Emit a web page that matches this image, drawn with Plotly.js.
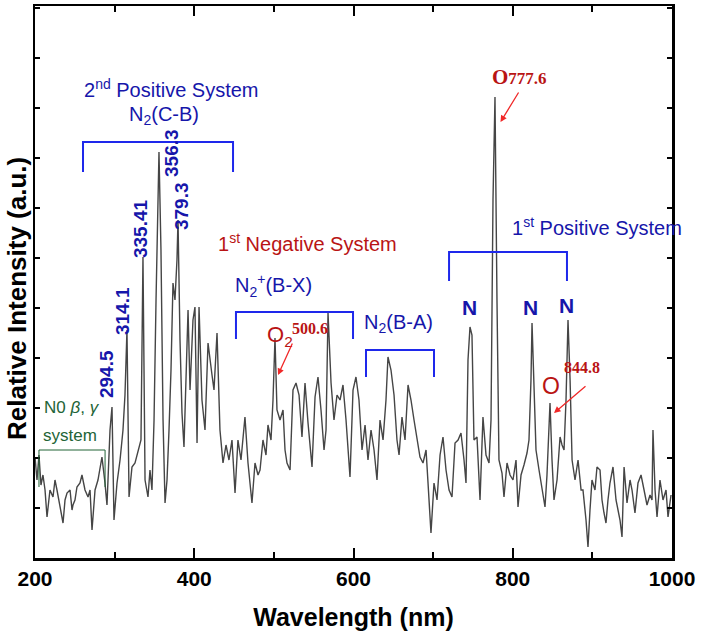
<!DOCTYPE html>
<html>
<head>
<meta charset="utf-8">
<script src="https://cdn.plot.ly/plotly-3.0.1.min.js"></script>
<style>html,body{margin:0;padding:0;background:#fff;}#chart{width:702px;height:638px;}</style>
</head>
<body>
<div id="chart"></div>
<script>
// Emission spectrum (wavelength in nm, relative intensity a.u.)
var wavelength = [200,202.5,205,207.5,210,212.6,215.1,218.8,222.6,225.1,227.6,231.4,235.2,237.7,240.2,244,246.5,247.7,250.2,252.7,256.5,259,262.8,266.6,269.1,271.6,275.4,279.1,281.6,284.1,287.9,290.4,294.2,296.7,299.2,303,306.8,310.5,313,315.5,318.1,321.8,325.6,329.4,333.1,335.6,338.2,341.9,344.4,346.9,349.5,352,353.2,355.7,358.2,360.8,363.3,365.8,368.3,370.8,373.3,375.8,378.3,379.6,382.1,384.6,387.1,389.6,392.2,394.7,398.4,400.9,403.5,406,409.7,413.5,417.3,422.3,424.8,428.6,432.3,436.1,439.9,443.6,447.4,451.2,454.9,458.7,463.7,467.5,472.5,476.3,480.1,482.6,486.3,490.1,492.6,496.4,498.9,501.4,503.9,507.7,511.5,514,516.5,520.3,524,527.8,531.6,535.3,539.1,542.9,547.9,551.7,555.4,559.2,563,565.5,568,571.8,575.5,579.3,583.1,586.8,590.6,595.6,599.4,603.1,606.9,610.7,614.5,618.2,622,625.8,629.5,633.3,637.1,640.8,643.3,647.1,650.9,654.6,657.2,660.9,664.7,668.5,672.2,676,679.8,683.5,687.3,691.1,693.6,697.3,701.1,704.9,708.7,712.4,716.2,720,723.7,727.5,731.3,735,738.8,741.3,743.8,746.3,748.8,751.3,755.1,758.9,762.6,766.4,770.2,772.7,775.2,777.7,780.2,782.7,786.5,789,792.8,796.6,800.3,804.1,806.6,810.4,814.1,817.9,820.4,822.9,824.2,826.7,829.2,833,836.8,840.5,843,846.8,849.3,851.8,855.6,859.4,861.9,864.4,866.9,869.4,872,874.5,878.2,882,885.8,888.2,892,894.5,897,899.5,903.3,905.8,909.6,912.1,914.6,917.1,919.6,922.1,925.9,929.7,932.2,934.7,937.2,939.8,943.5,947.3,949.8,953.5,957.3,961.1,964.9,968.6,972.4,974.9,976.1,978.7,981.2,984.9,988.7,992.5,995,998.8];
var intensity = [2.02,1.56,2.06,1.46,1.66,1.36,0.82,1.36,1.22,1.56,1.36,1.02,0.70,1.16,1.30,1.36,0.96,1.06,1.16,1.42,1.50,1.66,1.36,1.22,1.36,0.56,1.36,1.56,1.76,2.02,1.50,1.06,2.56,3.02,0.76,1.50,1.96,2.56,3.26,4.56,1.22,1.82,1.90,2.16,2.36,6.02,1.56,1.22,1.76,1.36,2.76,5.16,6.36,8.12,6.16,2.76,1.10,1.56,2.56,3.76,5.50,5.16,5.96,6.76,4.36,2.90,2.22,3.56,4.96,3.36,4.76,5.02,2.30,5.02,3.16,2.56,4.30,3.66,3.36,4.50,2.56,1.90,2.26,1.96,2.36,1.30,2.36,1.96,2.82,1.90,1.10,1.90,1.66,1.76,2.36,2.06,2.66,2.36,3.16,4.40,2.96,2.76,2.96,2.16,1.90,1.76,3.36,3.50,3.26,2.42,3.50,2.70,1.82,3.22,3.62,2.96,2.16,2.56,4.90,3.50,2.76,3.26,3.16,3.46,2.76,1.62,3.36,3.62,3.16,2.16,2.66,1.96,2.56,2.16,1.56,2.76,2.36,3.16,4.02,3.76,3.26,2.36,2.06,2.82,2.36,3.46,3.16,2.76,2.36,2.02,1.90,2.16,1.50,0.50,1.50,1.16,2.06,2.42,1.76,1.36,1.22,2.30,2.36,2.50,1.96,1.50,3.96,4.62,4.46,2.36,2.42,1.16,2.82,2.06,1.90,2.76,7.16,9.22,5.16,1.96,1.70,1.22,1.90,1.66,1.56,1.96,1.02,1.66,1.86,2.10,2.36,3.56,4.70,3.56,2.16,1.76,1.42,1.02,1.66,3.10,1.96,1.16,1.56,2.42,2.26,2.16,3.16,4.76,3.56,1.96,1.56,1.96,1.36,1.36,0.76,0.22,0.96,1.56,1.36,1.82,1.76,1.16,0.90,0.70,1.16,1.50,1.82,1.16,0.96,0.76,0.42,1.82,1.10,1.56,1.36,0.90,1.50,1.66,1.36,1.06,1.26,1.16,2.56,1.36,0.82,1.56,1.16,1.36,0.82,1.26];
var xTickValues = [200, 400, 600, 800, 1000];
var xTickLabels = ['200', '400', '600', '800', '1000'];

var SANS = 'Liberation Sans, Arial, sans-serif';
var SERIF = 'Liberation Serif, Times New Roman, serif';
var BLUE_TXT = 'rgb(22,22,170)';
var BLUE_LN = 'rgb(30,40,235)';
var RED_TXT = 'rgb(185,20,20)';
var RED_ARR = 'rgb(240,40,40)';
var GREEN = 'rgb(35,100,55)';

function lbl(text, x, y, o) {
  o = o || {};
  return {
    text: text, x: x, y: y, xref: 'x', yref: 'y', showarrow: false,
    xanchor: o.xanchor || 'center', yanchor: o.yanchor || 'middle',
    textangle: o.angle || 0,
    font: {family: o.family || SANS, size: o.size || 20, color: o.color || BLUE_TXT, weight: o.weight || 'normal'}
  };
}
function arrow(x, y, ax, ay) {
  return {text: '', x: x, y: y, xref: 'x', yref: 'y', ax: ax, ay: ay, showarrow: true,
          arrowhead: 2, arrowsize: 1, arrowwidth: 1.3, arrowcolor: RED_ARR};
}
function bracket(x0, x1, yTop, yBot, color, w) {
  return {type: 'path', xref: 'x', yref: 'y',
          path: 'M' + x0 + ',' + yBot + ' L' + x0 + ',' + yTop + ' L' + x1 + ',' + yTop + ' L' + x1 + ',' + yBot,
          line: {color: color, width: w}};
}

var annotations = [
  lbl('2<sup>nd</sup> Positive System', 370.8, 9.4, {size: 20}),
  lbl('N<sub>2</sub>(C-B)', 362, 8.86, {size: 20}),
  lbl('356.3', 370.8, 8.1, {angle: -90, size: 19, weight: 'bold'}),
  lbl('379.3', 383.4, 7.04, {angle: -90, size: 19, weight: 'bold'}),
  lbl('335.41', 331.9, 6.58, {angle: -90, size: 19, weight: 'bold'}),
  lbl('314.1', 309.3, 4.94, {angle: -90, size: 19, weight: 'bold'}),
  lbl('294.5', 289.2, 3.68, {angle: -90, size: 19, weight: 'bold'}),
  lbl('1<sup>st</sup> Negative System', 541.6, 6.32, {size: 20, color: RED_TXT}),
  lbl('N<sub>2</sub><sup>+</sup>(B-X)', 498.9, 5.46, {size: 20}),
  lbl('O<sub>2</sub>', 488.5, 4.45, {size: 22, color: RED_TXT, xanchor: 'left'}),
  lbl('500.6', 545.4, 4.6, {size: 16, color: RED_TXT, family: SERIF, weight: 'bold'}),
  arrow(505.2, 3.66, 15, -33),
  lbl('N<sub>2</sub>(B-A)', 655.9, 4.7, {size: 20}),
  lbl('1<sup>st</sup> Positive System', 905.8, 6.64, {size: 20}),
  lbl('N', 746.3, 5.02, {size: 21, weight: 'bold'}),
  lbl('N', 821.7, 5.02, {size: 21, weight: 'bold'}),
  lbl('N', 868.1, 5.06, {size: 21, weight: 'bold'}),
  lbl('O<span style="font-size:17px">777.6</span>', 807.9, 9.62, {size: 21, color: RED_TXT, family: SERIF, weight: 'bold'}),
  arrow(784.6, 8.72, 19, -31),
  lbl('O', 848, 3.44, {size: 23, color: RED_TXT}),
  lbl('844.8', 887, 3.82, {size: 16, color: RED_TXT, family: SERIF, weight: 'bold'}),
  arrow(851.8, 2.9, 33, -28),
  lbl('N0 <i>β</i>, <i>γ</i>', 208.8, 3.02, {size: 17, color: GREEN, xanchor: 'left'}),
  lbl('system', 244, 2.46, {size: 17, color: GREEN}),
  // y-axis title placed as a paper annotation to match the reference position
  {text: 'Relative Intensity (a.u.)', xref: 'paper', yref: 'paper', x: -0.0283, y: 0.471,
   xanchor: 'center', yanchor: 'middle', textangle: -90, showarrow: false,
   font: {family: SANS, size: 26, weight: 'bold', color: '#000'}}
];

var shapes = [
  bracket(260.3, 448.7, 8.32, 7.72, BLUE_LN, 2),
  bracket(452.4, 599.4, 4.92, 4.38, BLUE_LN, 2),
  bracket(615.7, 701.1, 4.16, 3.62, BLUE_LN, 2),
  bracket(720, 868.1, 6.12, 5.54, BLUE_LN, 2),
  bracket(205, 288, 2.16, 1.42, GREEN, 1)
];

var trace = {
  x: wavelength, y: intensity, type: 'scatter', mode: 'lines',
  line: {color: '#454545', width: 1.4}, hoverinfo: 'skip', showlegend: false
};

var layout = {
  width: 702, height: 638,
  margin: {l: 35, r: 30, t: 6, b: 80},
  paper_bgcolor: '#fff', plot_bgcolor: '#fff',
  showlegend: false,
  font: {family: SANS, color: '#000'},
  xaxis: {
    range: [200, 1000], tickmode: 'array', tickvals: xTickValues, ticktext: xTickLabels,
    ticks: 'inside', ticklen: 10, tickwidth: 2, tickcolor: '#000',
    minor: {dtick: 100, tick0: 200, ticks: 'inside', ticklen: 6, tickwidth: 2, tickcolor: '#000'},
    showline: true, linewidth: 2.5, linecolor: '#000', mirror: 'allticks',
    showgrid: false, zeroline: false,
    tickfont: {family: SANS, size: 21, weight: 'bold', color: '#000'},
    title: {text: 'Wavelength (nm)', font: {family: SANS, size: 25, weight: 'bold', color: '#000'}, standoff: 20}
  },
  yaxis: {
    range: [0, 11.04], tick0: 0, dtick: 1, showticklabels: false,
    ticks: 'inside', ticklen: 5, tickwidth: 2, tickcolor: '#000',
    showline: true, linewidth: 2.5, linecolor: '#000', mirror: 'allticks',
    showgrid: false, zeroline: false
  },
  annotations: annotations,
  shapes: shapes
};

Plotly.newPlot('chart', [trace], layout, {displayModeBar: false, staticPlot: true});
</script>
</body>
</html>
